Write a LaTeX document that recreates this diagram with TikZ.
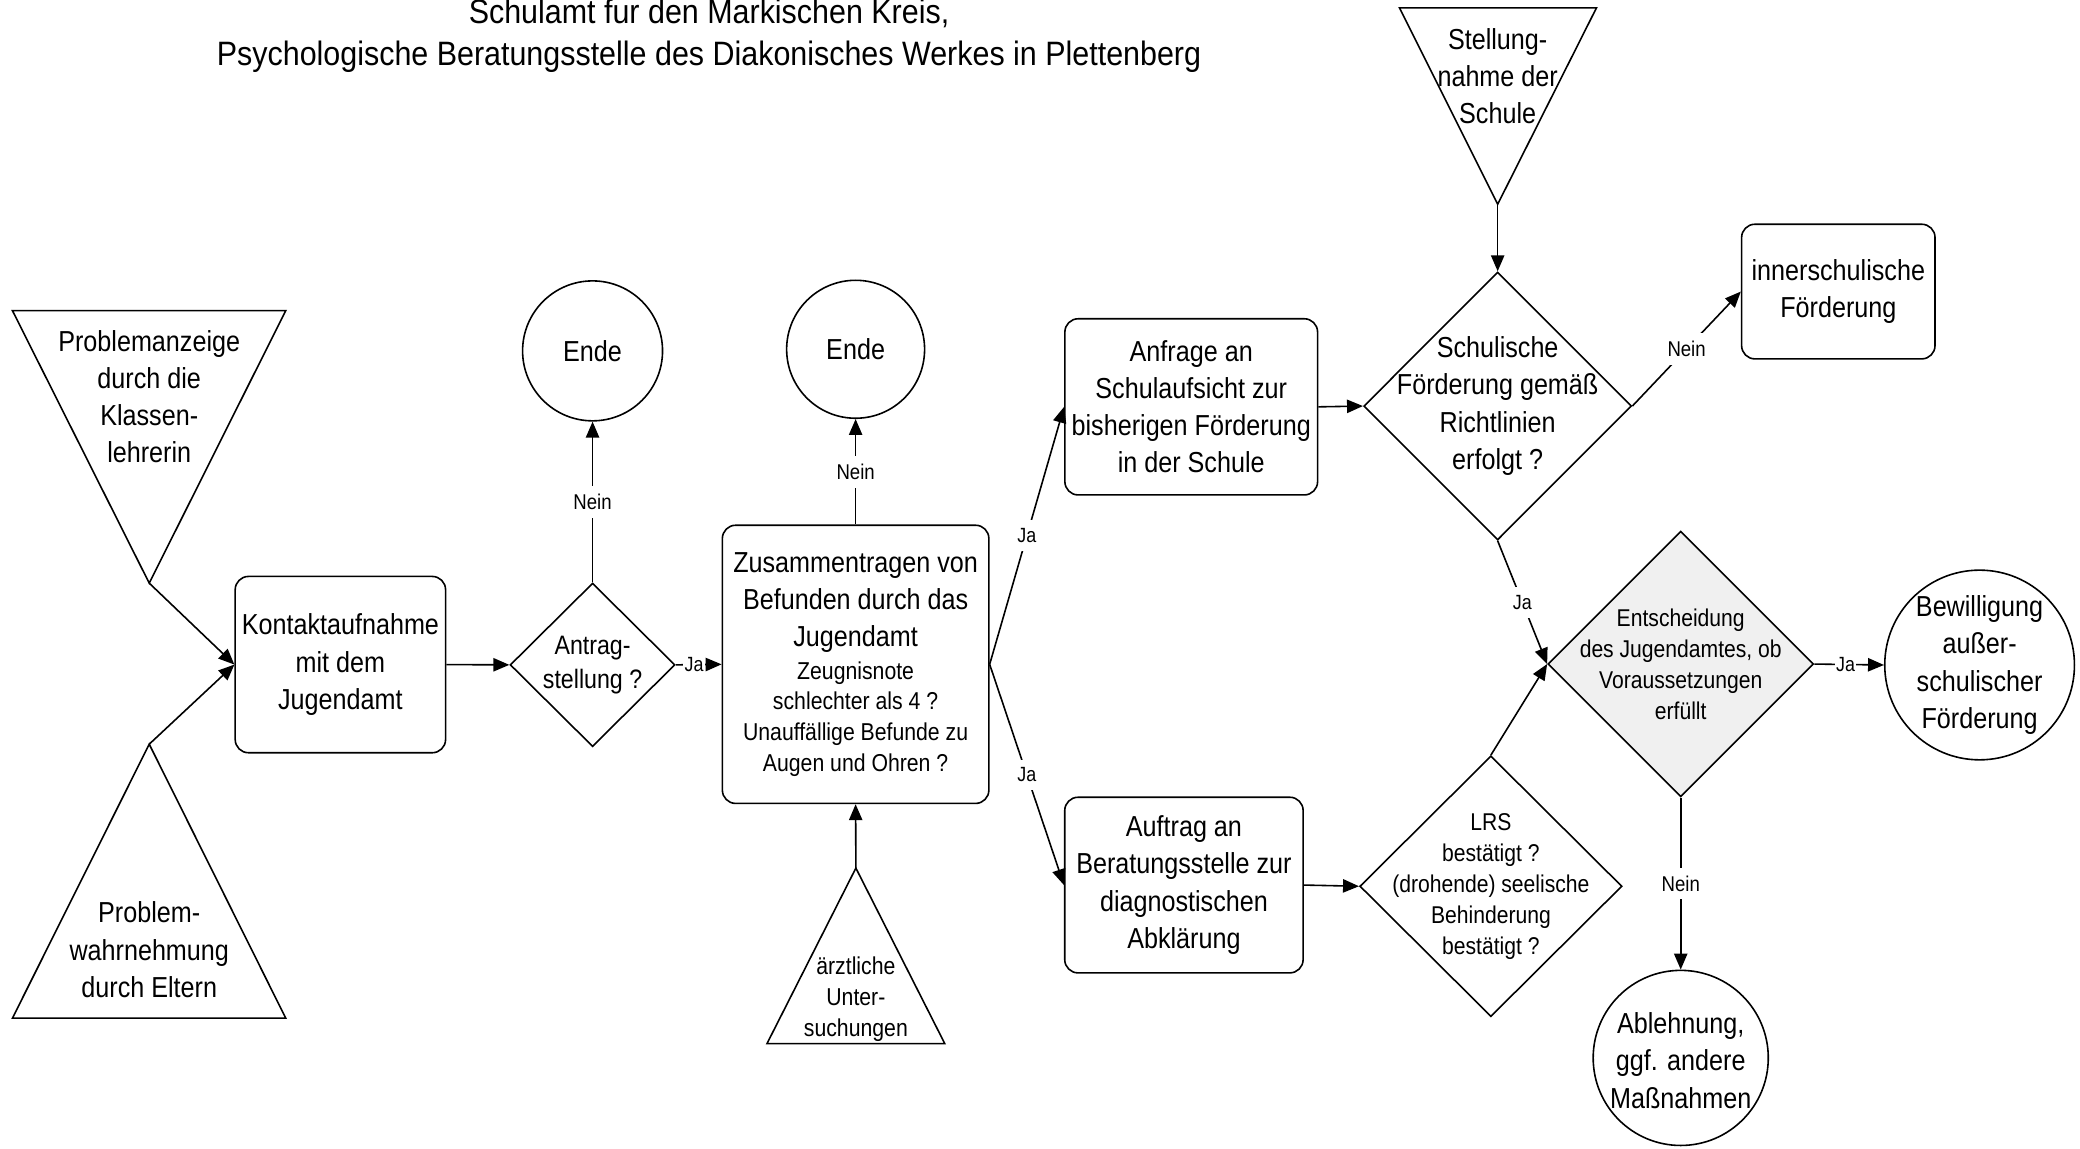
\documentclass[tikz,border=0pt]{standalone}
\usepackage{fontspec}
\setmainfont[FakeStretch=0.87]{Liberation Sans}
\newfontfamily\titfont[FakeStretch=0.9]{Liberation Sans}
\usetikzlibrary{arrows.meta,shapes.geometric}
\newcommand\fReg{\fontsize{21.8}{28}\selectfont}
\newcommand\fSml{\fontsize{18.4}{23.4}\selectfont}
\newcommand\fAnt{\fontsize{20.1}{25.6}\selectfont}
\newcommand\fNarS{\fontsize{18.3}{23.3}\selectfont}
\newcommand\fLab{\fontsize{16.1}{18}\selectfont}
\newcommand\fJa{\fontsize{15.5}{18}\selectfont}
\newcommand\fTit{\titfont\fontsize{25.5}{32}\selectfont}
\begin{document}
\begin{tikzpicture}[x=1pt,y=-1pt,
  lw/.style={line width=1.2pt},
  shp/.style={draw,lw,inner sep=0pt},
  rbox/.style={shp,rectangle,rounded corners=10pt,align=center,font=\fReg},
  dia/.style={shp,diamond},
  circ/.style={shp,circle},
  txt/.style={align=center,inner sep=0pt},
  tri/.style={draw,lw,line join=miter},
  arr/.style={lw,-{Triangle[length=12pt,width=10pt]}},
  lab/.style={fill=white,inner xsep=1.5pt,inner ysep=6pt,font=\fLab},
  ja/.style={lab,inner xsep=1pt,font=\fJa}]
\useasboundingbox (0,0) rectangle (1568,866);

% title
\node[font=\fTit,anchor=base,inner sep=0pt] (tit1) at (534.5,17.5) {Schulamt fur den Markischen Kreis,};
\node[font=\fTit,anchor=base,inner sep=0pt] (tit2) at (534.5,49.5) {Psychologische Beratungsstelle des Diakonisches Werkes in Plettenberg};

% triangles
\coordinate (t1a) at (112.5,439.6);
\draw[tri] (9.4,234.2) -- (215.4,234.2) -- (t1a) -- cycle;
\node[txt,font=\fReg] (t1t) at (112.5,299) {Problemanzeige\\durch die\\Klassen-\\lehrerin};

\coordinate (t2a) at (112.5,561);
\draw[tri] (9.4,767.5) -- (215.4,767.5) -- (t2a) -- cycle;
\node[txt,font=\fReg] (t2t) at (112.5,716) {Problem-\\wahrnehmung\\durch Eltern};

\coordinate (t3a) at (645.2,654.4);
\draw[tri] (578.2,786.7) -- (712.2,786.7) -- (t3a) -- cycle;
\node[txt,font=\fSml] (t3t) at (645.2,753.5) {ärztliche\\Unter-\\suchungen};

\coordinate (t4a) at (1129,154);
\draw[tri] (1055,5.9) -- (1203.5,5.9) -- (t4a) -- cycle;
\node[txt,font=\fReg] (t4t) at (1129,57.5) {Stellung-\\nahme der\\Schule};

% boxes
\node[rbox,minimum width=158.6,minimum height=132.9] (kon) at (256.6,501) {Kontaktaufnahme\\mit dem\\Jugendamt};
\node[rbox,minimum width=200.9,minimum height=209.7] (zus) at (645,500.8)
 {Zusammentragen von\\Befunden durch das\\Jugendamt\\[-3.6pt]
  {\fSml Zeugnisnote}\\[-4.9pt]{\fSml schlechter als 4 ?}\\[-4.9pt]
  {\fSml Unauffällige Befunde zu}\\[-4.9pt]{\fSml Augen und Ohren ?}};
\node[rbox,minimum width=190.5,minimum height=132.8] (anf) at (898,306.7) {Anfrage an\\Schulaufsicht zur\\bisherigen Förderung\\in der Schule};
\node[rbox,minimum width=179.7,minimum height=132.4] (auf) at (892.5,667.2) {Auftrag an\\Beratungsstelle zur\\diagnostischen\\Abklärung};
\node[rbox,minimum width=145.8,minimum height=101.5] (inn) at (1385.8,219.8) {innerschulische\\Förderung};

% diamonds
\node[dia,minimum width=124.3,minimum height=123.3] (ant) at (446.7,501.2) {};
\node[txt,font=\fAnt] (antt) at (ant.center) {Antrag-\\stellung ?};
\node[dia,minimum width=201.9,minimum height=202] (sch) at (1129,306.1) {};
\node[txt,font=\fReg] (scht) at (sch.center) {Schulische\\Förderung gemäß\\Richtlinien\\erfolgt ?};
\node[dia,fill=black!6,minimum width=200.2,minimum height=200.2] (ent) at (1267,500.6) {};
\node[txt,font=\fNarS] (entt) at (ent.center) {Entscheidung\\des Jugendamtes, ob\\Voraussetzungen\\erfüllt};
\node[dia,minimum width=197.7,minimum height=196.6] (lrs) at (1123.9,668.1) {};
\node[txt,font=\fNarS] (lrst) at (lrs.center) {LRS\\bestätigt ?\\(drohende) seelische\\Behinderung\\bestätigt ?};

% circles
\node[circ,minimum size=105.5] (end1) at (446.7,264.5) {};
\node[txt,font=\fReg] (end1t) at (end1.center) {Ende};
\node[circ,minimum size=104] (end2) at (645,263.3) {};
\node[txt,font=\fReg] (end2t) at (end2.center) {Ende};
\node[circ,minimum size=143] (bew) at (1492.3,501.3) {};
\node[txt,font=\fReg] (bewt) at (bew.center) {Bewilligung\\außer-\\schulischer\\Förderung};
\node[circ,minimum size=132] (abl) at (1267,797.5) {};
\node[txt,font=\fReg] (ablt) at (1267,799.5) {Ablehnung,\\ggf. andere\\Maßnahmen};

% connectors
\draw[arr] (t1a) -- (kon.west);
\draw[arr] (t2a) -- (kon.west);
\draw[arr] (kon.east) -- (ant.west);
\draw[arr] (ant.north) -- node[lab] {Nein} (end1.south);
\draw[arr] (ant.east) -- node[ja,pos=0.4] {Ja} (zus.west);
\draw[arr] (zus.north) -- node[lab] {Nein} (end2.south);
\draw[arr] (t3a) -- (zus.south);
\draw[arr] (zus.east) -- node[ja] {Ja} (anf.west);
\draw[arr] (zus.east) -- node[ja] {Ja} (auf.west);
\draw[arr] (anf.east) -- (sch.west);
\draw[arr] (t4a) -- (sch.north);
\draw[arr] (sch.east) -- node[lab] {Nein} (inn.west);
\draw[arr] (sch.south) -- node[ja] {Ja} (ent.west);
\draw[arr] (auf.east) -- (lrs.west);
\draw[arr] (lrs.north) -- (ent.west);
\draw[arr] (ent.east) -- node[ja,pos=0.45] {Ja} (bew.west);
\draw[arr] (ent.south) -- node[lab] {Nein} (abl.north);
\end{tikzpicture}
\end{document}
